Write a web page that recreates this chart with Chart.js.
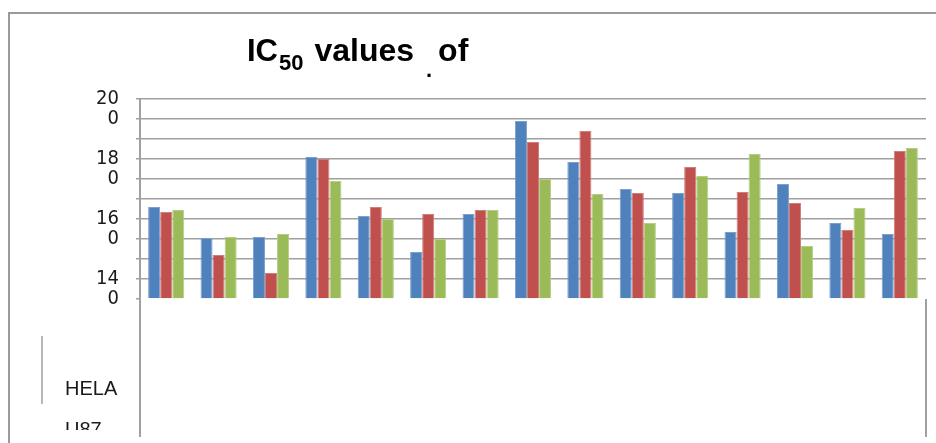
<!DOCTYPE html>
<html>
<head>
<meta charset="utf-8">
<script src="https://cdn.jsdelivr.net/npm/chart.js@4.4.1/dist/chart.umd.min.js"></script>
<style>
  html, body { margin: 0; padding: 0; background: #ffffff; }
  canvas { display: block; }
</style>
</head>
<body>
<canvas id="chart" width="936" height="443"></canvas>
<script>
// Compounds along the category axis
const categories = ['1', '2', '3', '4', '5', '6', '7', '8', '9', '10', '11', '12', '13', '14', '15'];

// Cell lines (series)
const seriesNames = ['HELA', 'U87', 'MCF-7'];

// IC50 values per cell line
const helaValues = [92, 61, 62, 142, 83, 47, 85, 178, 137, 110, 106, 67, 115, 76, 65];
const u87Values  = [87, 44, 26, 140, 92, 85, 89, 157, 168, 106, 132, 107, 96, 69, 148];
const mcf7Values = [89, 62, 65, 118, 80, 60, 89, 120, 105, 76, 123, 145, 53, 91, 151];

// Value axis labels shown beside the plot
const axisLabelValues = [200, 180, 160, 140];

const seriesColors = ['#4f81bd', '#c0504d', '#9bbb59'];
const seriesEdges  = ['#7c9fcc', '#d07e7b', '#b5cd87'];
const gridGray = '#a0a0a0';

const FONT = '"Liberation Sans", Arial, sans-serif';
const NARROW = '"Liberation Sans Narrow", "Arial Narrow", "DejaVu Sans Condensed", "Liberation Sans", Arial, sans-serif';

// White page plus the outer chart frame
const framePlugin = {
  id: 'frame',
  beforeDraw(chart) {
    const ctx = chart.ctx;
    ctx.save();
    ctx.fillStyle = '#ffffff';
    ctx.fillRect(0, 0, chart.width, chart.height);
    ctx.strokeStyle = '#9a9a9a';
    ctx.lineWidth = 2;
    ctx.beginPath();
    ctx.moveTo(9, chart.height + 5);
    ctx.lineTo(9, 13);
    ctx.lineTo(chart.width + 5, 13);
    ctx.stroke();
    ctx.restore();
  }
};

// Title with a subscript "50"
const titlePlugin = {
  id: 'subscriptTitle',
  afterDraw(chart) {
    const ctx = chart.ctx;
    ctx.save();
    ctx.fillStyle = '#000000';
    ctx.textBaseline = 'alphabetic';
    ctx.textAlign = 'left';
    let x = 247;
    ctx.font = 'bold 31px ' + FONT;
    ctx.fillText('IC', x, 61);
    x += ctx.measureText('IC').width + 1;
    ctx.font = 'bold 22px ' + FONT;
    ctx.fillText('50', x, 70);
    x += ctx.measureText('50').width + 11;
    ctx.font = 'bold 32px ' + FONT;
    ctx.fillText('values', x, 61);
    const afterValues = x + ctx.measureText('values').width;
    ctx.fillText('of', afterValues + 24, 61);
    ctx.font = 'bold 22px ' + FONT;
    ctx.fillText('.', afterValues + 12, 77);
    ctx.restore();
  }
};

// Series names listed at the lower left, cut off by the frame box
const seriesListPlugin = {
  id: 'seriesList',
  afterDraw(chart) {
    const ctx = chart.ctx;
    ctx.save();
    ctx.strokeStyle = gridGray;
    ctx.lineWidth = 1.5;
    ctx.beginPath();
    ctx.moveTo(42, 336);
    ctx.lineTo(42, 404);
    ctx.stroke();
    ctx.beginPath();
    ctx.rect(0, 0, chart.width, 430);
    ctx.clip();
    ctx.fillStyle = '#1a1a1a';
    ctx.font = '20px ' + FONT;
    ctx.textBaseline = 'alphabetic';
    chart.data.datasets.forEach((ds, i) => {
      ctx.fillText(ds.label, 65, 395 + i * 41);
    });
    ctx.restore();
  }
};

new Chart(document.getElementById('chart'), {
  type: 'bar',
  data: {
    labels: categories,
    datasets: [helaValues, u87Values, mcf7Values].map((values, i) => ({
      label: seriesNames[i],
      data: values,
      yAxisID: 'y',
      xAxisID: 'x',
      backgroundColor: seriesColors[i],
      borderColor: seriesEdges[i],
      borderWidth: 1,
      categoryPercentage: 0.69,
      barPercentage: 1.0
    }))
  },
  options: {
    responsive: false,
    animation: false,
    devicePixelRatio: 1,
    layout: { padding: { top: 99, left: 86, right: 10, bottom: 6 } },
    plugins: {
      legend: { display: false },
      title: { display: false },
      tooltip: { enabled: false }
    },
    scales: {
      x: {
        type: 'category',
        offset: true,
        ticks: { display: false },
        border: { display: false },
        grid: {
          offset: true,
          drawOnChartArea: false,
          drawTicks: true,
          tickLength: 138,
          lineWidth: 2,
          color: (c) => (c.type === 'scale' || c.index === 0) ? gridGray : 'rgba(0,0,0,0)'
        }
      },
      y: {
        type: 'linear',
        position: 'left',
        weight: 1,
        min: 0,
        max: 200,
        ticks: { display: false, stepSize: 20 },
        border: { display: true, color: gridGray, width: 2 },
        grid: {
          drawTicks: true,
          tickLength: 4,
          lineWidth: 1.5,
          tickColor: gridGray,
          color: (c) => (c.tick && c.tick.value === 0) ? 'rgba(0,0,0,0)' : gridGray
        }
      },
      yText: {
        type: 'linear',
        position: 'left',
        weight: 2,
        min: 136.5,
        max: 203.2,
        afterBuildTicks: (scale) => {
          scale.ticks = axisLabelValues.map(v => ({ value: v }));
        },
        afterFit: (scale) => { scale.width = 50; },
        grid: { display: false, drawTicks: false },
        border: { display: false },
        ticks: {
          autoSkip: false,
          padding: 17,
          color: '#1a1a1a',
          font: { family: NARROW, size: 20, lineHeight: 0.98 },
          callback: (v) => {
            const s = String(v);
            return [s.slice(0, 2), s.slice(2)];
          }
        }
      }
    }
  },
  plugins: [framePlugin, titlePlugin, seriesListPlugin]
});
</script>
</body>
</html>
